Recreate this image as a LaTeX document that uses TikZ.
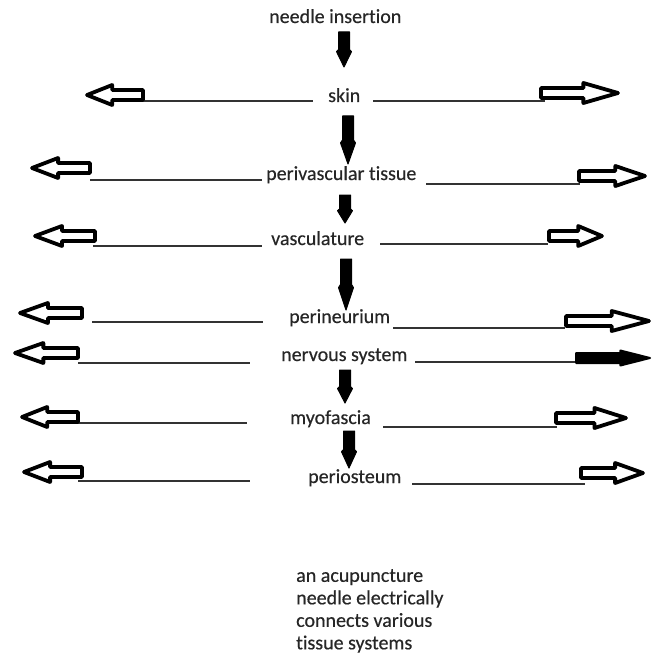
\documentclass[tikz,border=0pt]{standalone}
\usepackage{fontspec}
\setmainfont{Carlito}[Ligatures=NoCommon, FakeBold=0.4]
\tikzset{
  lbl/.style={anchor=base west, inner sep=0pt, font=\fontsize{20}{22.5}\selectfont, text=black!85},
  rulel/.style={line width=1.3pt, draw=black!80},
  blk/.style={line width=3.8pt, line join=round, draw=black},
  dblk/.style={fill=black, draw=black, line width=1pt, line join=round},
}
% horizontal hollow block arrow: [fill]{tail x}{tip x}{y}
\newcommand\hblk[4][white]{%
  \begin{scope}[shift={(#2,#4)},xscale={#3-#2}]
    \draw[blk,fill=#1] (0,-5) -- (0.55,-5) -- (0.55,-10) -- (1,0) -- (0.55,10) -- (0.55,5) -- (0,5) -- cycle;
  \end{scope}}
% vertical filled arrow: {x}{top}{bottom}
\newcommand\vblk[3]{%
  \begin{scope}[shift={(#1,#2)},yscale={#3-#2}]
    \draw[dblk] (-5.5,0) -- (5.5,0) -- (5.5,0.5) -- (7.5,0.56) -- (0,1) -- (-7.5,0.56) -- (-5.5,0.5) -- cycle;
  \end{scope}}
\begin{document}
\begin{tikzpicture}[x=1pt,y=-1pt]
\useasboundingbox (0,0) rectangle (652,655);

% labels
\node[lbl] (ins)  at (269,23)  {needle insertion};
\node[lbl] (skin) at (328,102) {skin};
\node[lbl] (peri) at (266,180) {perivascular tissue};
\node[lbl] (vasc) at (271,245) {vasculature};
\node[lbl] (pneu) at (289,323) {perineurium};
\node[lbl] (nerv) at (281,361) {nervous system};
\node[lbl] (myo)  at (290,424) {myofascia};
\node[lbl] (post) at (308,483) {periosteum};
\node[lbl, align=left, anchor=north west] (note) at (296,569)
  {an acupuncture\\needle electrically\\connects various\\tissue systems};

% vertical arrows
\vblk{344}{32}{67}
\vblk{348}{116}{164}
\vblk{345}{195}{223}
\vblk{346}{259}{310}
\vblk{345}{370}{403}
\vblk{349}{431}{468}

% horizontal rules
\draw[rulel] (143,101) -- (313,101);  \draw[rulel] (373,101) -- (545,101);
\draw[rulel] (90,180)  -- (262,180);  \draw[rulel] (426,184) -- (580,184);
\draw[rulel] (93,246)  -- (262,246);  \draw[rulel] (380,244) -- (548,244);
\draw[rulel] (92,322)  -- (263,322);  \draw[rulel] (393,328) -- (565,328);
\draw[rulel] (78,363)  -- (250,363);  \draw[rulel] (415,362) -- (575,362);
\draw[rulel] (78,423)  -- (247,423);  \draw[rulel] (383,427) -- (557,427);
\draw[rulel] (78,481)  -- (250,481);  \draw[rulel] (412,484) -- (585,484);

% side block arrows
\hblk{143}{87}{95}   \hblk{541}{618}{93}
\hblk{90}{32}{168}   \hblk{579}{645}{176}
\hblk{95}{35}{236}   \hblk{549}{602}{236}
\hblk{82}{20}{313}   \hblk{566}{649}{321}
\hblk{78}{15}{353}
\begin{scope}[shift={(576,358)},xscale=74]
  \draw[dblk, line width=2pt] (0,-5) -- (0.6,-5) -- (0.6,-7.5) -- (1,0) -- (0.6,7.5) -- (0.6,5) -- (0,5) -- cycle;
\end{scope}
\hblk{78}{22}{417}   \hblk{556}{626}{418}
\hblk{82}{24}{472}   \hblk{581}{643}{473}
\end{tikzpicture}
\end{document}
